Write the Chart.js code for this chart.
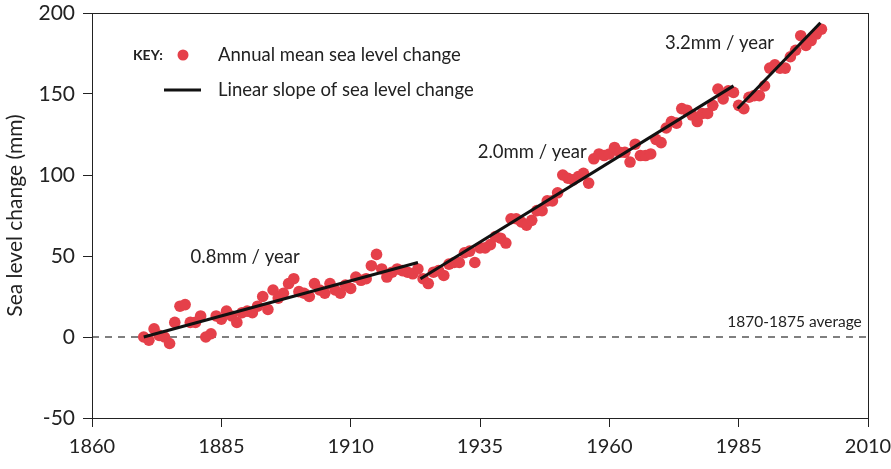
<!DOCTYPE html>
<html>
<head>
<meta charset="utf-8">
<script src="https://cdn.jsdelivr.net/npm/chart.js@4.4.1/dist/chart.umd.min.js"></script>
<style>
    html, body { margin: 0; padding: 0; background: #fff; }
    #wrap { width: 891px; height: 469px; }
</style>
</head>
<body>
<div id="wrap"><canvas id="seaChart" width="891" height="469"></canvas></div>
<script>
// annual mean sea level change (mm)
const years = [
    1870, 1871, 1872, 1873, 1874, 1875, 1876, 1877, 1878, 1879,
    1880, 1881, 1882, 1883, 1884, 1885, 1886, 1887, 1888, 1889,
    1890, 1891, 1892, 1893, 1894, 1895, 1896, 1897, 1898, 1899,
    1900, 1901, 1902, 1903, 1904, 1905, 1906, 1907, 1908, 1909,
    1910, 1911, 1912, 1913, 1914, 1915, 1916, 1917, 1918, 1919,
    1920, 1921, 1922, 1923, 1924, 1925, 1926, 1927, 1928, 1929,
    1930, 1931, 1932, 1933, 1934, 1935, 1936, 1937, 1938, 1939,
    1940, 1941, 1942, 1943, 1944, 1945, 1946, 1947, 1948, 1949,
    1950, 1951, 1952, 1953, 1954, 1955, 1956, 1957, 1958, 1959,
    1960, 1961, 1962, 1963, 1964, 1965, 1966, 1967, 1968, 1969,
    1970, 1971, 1972, 1973, 1974, 1975, 1976, 1977, 1978, 1979,
    1980, 1981, 1982, 1983, 1984, 1985, 1986, 1987, 1988, 1989,
    1990, 1991, 1992, 1993, 1994, 1995, 1996, 1997, 1998, 1999,
    2000, 2001
];
const seaLevel = [
    0, -2, 5, 1, 0, -4, 9, 19, 20, 9,
    9, 13, 0, 2, 13, 11, 16, 13, 9, 15,
    16, 15, 19, 25, 17, 29, 24, 27, 33, 36,
    28, 27, 25, 33, 29, 27, 33, 29, 27, 32,
    30, 37, 35, 36, 44, 51, 42, 37, 40, 42,
    41, 40, 39, 42, 36, 33, 40, 41, 38, 45,
    46, 46, 52, 53, 46, 55, 55, 57, 62, 61,
    58, 73, 73, 71, 69, 72, 78, 78, 84, 84,
    89, 100, 98, 97, 99, 101, 95, 110, 113, 112,
    113, 117, 114, 114, 108, 119, 112, 112, 113, 122,
    120, 129, 133, 132, 141, 140, 137, 133, 138, 138,
    143, 153, 147, 152, 151, 143, 141, 148, 149, 149,
    155, 166, 168, 166, 166, 173, 177, 186, 180, 183,
    187, 190
];

// linear slope segments (start, end)
const trend1Years = [1870, 1923];
const trend1Values = [0, 46];
const trend2Years = [1923.5, 1984];
const trend2Values = [36, 155];
const trend3Years = [1984.8, 2000.8];
const trend3Values = [141, 194];

const baselineYears = [1860, 2010];
const baselineValues = [0, 0];

const xTicks = [1860, 1885, 1910, 1935, 1960, 1985, 2010];
const yTicks = [-50, 0, 50, 100, 150, 200];

const RED = '#e5404a';
const TEXT = '#222';
const FONT = 'Lato, "Noto Sans", sans-serif';

const toPoints = (xs, ys) => xs.map((x, i) => ({ x: x, y: ys[i] }));

const trendStyle = {
    type: 'line',
    borderColor: '#111',
    borderWidth: 3,
    pointRadius: 0,
    fill: false
};

// frame, legend and text labels
const decorations = {
    id: 'decorations',
    afterDraw(chart) {
        const { ctx, chartArea: a, scales } = chart;
        const xs = scales.x, ys = scales.y;
        ctx.save();
        ctx.strokeStyle = '#222';
        ctx.lineWidth = 1;
        ctx.strokeRect(a.left + 0.5, a.top + 0.5, a.right - a.left, a.bottom - a.top);

        ctx.fillStyle = TEXT;
        ctx.textBaseline = 'middle';
        ctx.font = 'bold 14px ' + FONT;
        ctx.textAlign = 'left';
        ctx.fillText('KEY:', 133, 55);

        ctx.font = '18.5px ' + FONT;
        ctx.fillText('Annual mean sea level change', 218, 55);
        ctx.fillText('Linear slope of sea level change', 218, 90);

        ctx.fillStyle = RED;
        ctx.beginPath();
        ctx.arc(183, 55, 5.5, 0, Math.PI * 2);
        ctx.fill();

        ctx.strokeStyle = '#111';
        ctx.lineWidth = 3;
        ctx.beginPath();
        ctx.moveTo(164, 90);
        ctx.lineTo(201, 90);
        ctx.stroke();

        ctx.fillStyle = TEXT;
        ctx.textAlign = 'center';
        ctx.font = '18.5px ' + FONT;
        ctx.fillText('0.8mm / year', xs.getPixelForValue(1889.6), ys.getPixelForValue(49.5));
        ctx.fillText('2.0mm / year', xs.getPixelForValue(1945.1), ys.getPixelForValue(114.3));
        ctx.fillText('3.2mm / year', xs.getPixelForValue(1981.3), ys.getPixelForValue(181.3));
        ctx.font = '15.5px ' + FONT;
        ctx.textAlign = 'right';
        ctx.fillText('1870-1875 average', xs.getPixelForValue(2008.8), ys.getPixelForValue(9.5));
        ctx.restore();
    }
};

new Chart(document.getElementById('seaChart'), {
    type: 'scatter',
    data: {
        datasets: [
            { ...trendStyle, data: toPoints(trend1Years, trend1Values) },
            { ...trendStyle, data: toPoints(trend2Years, trend2Values) },
            { ...trendStyle, data: toPoints(trend3Years, trend3Values) },
            {
                type: 'scatter',
                data: toPoints(years, seaLevel),
                backgroundColor: RED,
                borderWidth: 0,
                pointRadius: 5.8
            },
            {
                type: 'line',
                data: toPoints(baselineYears, baselineValues),
                borderColor: '#000',
                borderWidth: 1.2,
                borderDash: [7, 6],
                pointRadius: 0
            }
        ]
    },
    options: {
        responsive: false,
        animation: false,
        layout: { padding: { top: 13, right: 23, left: 3, bottom: 0 } },
        plugins: { legend: { display: false }, tooltip: { enabled: false } },
        scales: {
            x: {
                type: 'linear',
                min: 1860,
                max: 2010,
                afterFit: s => { s.height = 51; s.paddingLeft = 0; s.paddingRight = 0; },
                afterBuildTicks: s => { s.ticks = xTicks.map(v => ({ value: v })); },
                grid: { drawOnChartArea: false, tickLength: 9, color: '#222' },
                border: { color: '#222' },
                ticks: {
                    color: TEXT,
                    padding: 8,
                    font: { family: FONT, size: 20 },
                    callback: v => String(v)
                }
            },
            y: {
                min: -50,
                max: 200,
                afterFit: s => { s.width = 89; s.paddingTop = 0; s.paddingBottom = 0; },
                afterBuildTicks: s => { s.ticks = yTicks.map(v => ({ value: v })); },
                grid: { drawOnChartArea: false, tickLength: 9, color: '#222' },
                border: { color: '#222' },
                ticks: {
                    color: TEXT,
                    padding: 8,
                    font: { family: FONT, size: 21 }
                },
                title: {
                    display: true,
                    text: 'Sea level change (mm)',
                    color: TEXT,
                    font: { family: FONT, size: 21 },
                    padding: { top: 0, bottom: 0 }
                }
            }
        }
    },
    plugins: [decorations]
});
</script>
</body>
</html>
